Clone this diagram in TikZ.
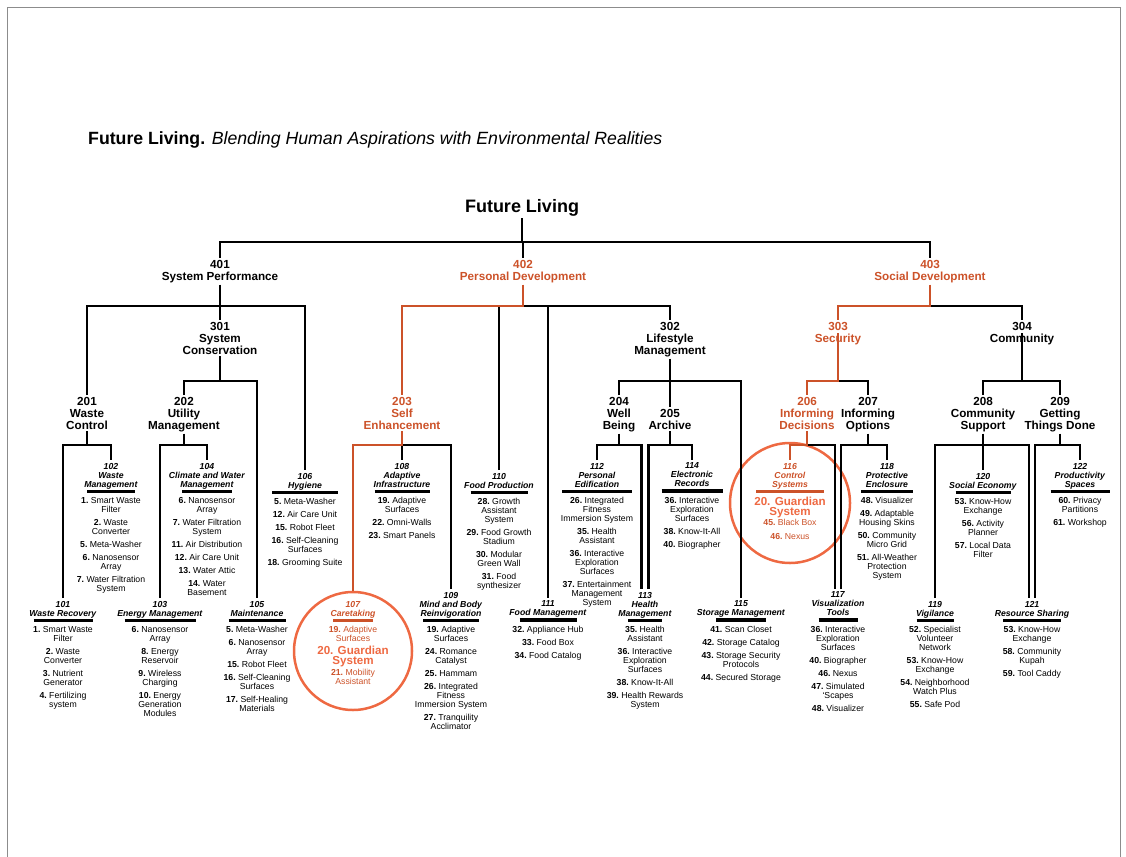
\documentclass[tikz,border=0pt]{standalone}
\usepackage{fontspec}
\setmainfont{Liberation Sans}
\definecolor{rust}{HTML}{CC5229}
\definecolor{flame}{HTML}{EE6942}
\definecolor{edge}{HTML}{8C8C8C}
\newcommand{\itm}[1]{\textbf{#1.}\ }
\newcommand{\cathd}[1]{\textbf{\textit{#1}}}
\newcommand{\catbar}[1]{\rule{#1pt}{3.5pt}}
\newcommand{\guard}[1]{{\color{flame}\fontsize{11.6}{9}\selectfont\bfseries #1}}
\begin{document}
\begin{tikzpicture}[x=1pt,y=-1pt]
\tikzstyle{lvl}=[anchor=north,align=center,inner sep=0pt,outer sep=2pt,font=\fontsize{11.7}{12}\selectfont\bfseries]
\tikzstyle{cat}=[anchor=north,align=center,inner sep=0pt,outer sep=3pt,font=\fontsize{8.7}{9}\selectfont]
\tikzstyle{tree}=[line width=2.6pt]
\tikzstyle{hotline}=[line width=2.6pt,draw=rust]
\tikzstyle{ring}=[circle,draw=flame,line width=2.5pt,inner sep=0pt]
\useasboundingbox (0,0) rectangle (1126,856);
\draw[edge,line width=0.8pt] (7,900) -- (7,7) -- (1120,7) -- (1120,900);

\node[anchor=base west,inner sep=0pt] (title) at (88,144) {\fontsize{17.7}{20}\selectfont\textbf{Future Living.} \textit{Blending Human Aspirations with Environmental Realities}};
\node[inner sep=0pt,outer sep=2pt,font=\fontsize{18}{20}\selectfont\bfseries] (root) at (522,208) {Future Living};

% levels
\node[lvl] (n401) at (220,258) {401\\System Performance};
\node[lvl,text=rust] (n402) at (523,258) {402\\Personal Development};
\node[lvl,text=rust] (n403) at (930,258) {403\\Social Development};
\node[lvl] (n301) at (220,320) {301\\System\\Conservation};
\node[lvl] (n302) at (670,320) {302\\Lifestyle\\Management};
\node[lvl,text=rust] (n303) at (838,320) {303\\Security};
\node[lvl] (n304) at (1022,320) {304\\Community};
\node[lvl] (n201) at (87,395) {201\\Waste\\Control};
\node[lvl] (n202) at (184,395) {202\\Utility\\Management};
\node[lvl,text=rust] (n203) at (402,395) {203\\Self\\Enhancement};
\node[lvl] (n204) at (619,395) {204\\Well\\Being};
\node[lvl] (n205) at (670,407) {205\\Archive};
\node[lvl,text=rust] (n206) at (807,395) {206\\Informing\\Decisions};
\node[lvl] (n207) at (868,395) {207\\Informing\\Options};
\node[lvl] (n208) at (983,395) {208\\Community\\Support};
\node[lvl] (n209) at (1060,395) {209\\Getting\\Things Done};

% categories, upper row
\node[cat] (c102) at (111,460) {\cathd{102}\\\cathd{Waste}\\\cathd{Management}\\[-3pt]\catbar{48}\\[1.3pt]\itm{1}Smart Waste\\Filter\\[4pt]\itm{2}Waste\\Converter\\[4pt]\itm{5}Meta-Washer\\[4pt]\itm{6}Nanosensor\\Array\\[4pt]\itm{7}Water Filtration\\System};
\node[cat] (c104) at (207,460) {\cathd{104}\\\cathd{Climate and Water}\\\cathd{Management}\\[-3pt]\catbar{50}\\[1.3pt]\itm{6}Nanosensor\\Array\\[4pt]\itm{7}Water Filtration\\System\\[4pt]\itm{11}Air Distribution\\[4pt]\itm{12}Air Care Unit\\[4pt]\itm{13}Water Attic\\[4pt]\itm{14}Water\\Basement};
\node[cat] (c106) at (305,470) {\cathd{106}\\\cathd{Hygiene}\\[-3pt]\catbar{66}\\[1.3pt]\itm{5}Meta-Washer\\[4pt]\itm{12}Air Care Unit\\[4pt]\itm{15}Robot Fleet\\[4pt]\itm{16}Self-Cleaning\\Surfaces\\[4pt]\itm{18}Grooming Suite};
\node[cat] (c108) at (402,460) {\cathd{108}\\\cathd{Adaptive}\\\cathd{Infrastructure}\\[-3pt]\catbar{55}\\[1.3pt]\itm{19}Adaptive\\Surfaces\\[4pt]\itm{22}Omni-Walls\\[4pt]\itm{23}Smart Panels};
\node[cat] (c110) at (499,470) {\cathd{110}\\\cathd{Food Production}\\[-3pt]\catbar{57}\\[1.3pt]\itm{28}Growth\\Assistant\\System\\[4pt]\itm{29}Food Growth\\Stadium\\[4pt]\itm{30}Modular\\Green Wall\\[4pt]\itm{31}Food\\synthesizer};
\node[cat] (c112) at (597,460) {\cathd{112}\\\cathd{Personal}\\\cathd{Edification}\\[-3pt]\catbar{70}\\[1.3pt]\itm{26}Integrated\\Fitness\\Immersion System\\[4pt]\itm{35}Health\\Assistant\\[4pt]\itm{36}Interactive\\Exploration\\Surfaces\\[4pt]\itm{37}Entertainment\\Management\\System};
\node[cat] (c114) at (692,460) {\cathd{114}\\\cathd{Electronic}\\\cathd{Records}\\[-3pt]\catbar{61}\\[1.3pt]\itm{36}Interactive\\Exploration\\Surfaces\\[4pt]\itm{38}Know-It-All\\[4pt]\itm{40}Biographer};
\node[cat,text=rust] (c116) at (790,460) {\cathd{116}\\\cathd{Control}\\\cathd{Systems}\\[-3pt]\catbar{68}\\[3.8pt]\guard{20. Guardian}\\[1pt]\guard{System}\\[1pt]\itm{45}Black Box\\[4.3pt]\itm{46}Nexus};
\node[cat] (c118) at (887,460) {\cathd{118}\\\cathd{Protective}\\\cathd{Enclosure}\\[-3pt]\catbar{52}\\[1.3pt]\itm{48}Visualizer\\[4pt]\itm{49}Adaptable\\Housing Skins\\[4pt]\itm{50}Community\\Micro Grid\\[4pt]\itm{51}All-Weather\\Protection\\System};
\node[cat] (c120) at (983,470) {\cathd{120}\\\cathd{Social Economy}\\[-3pt]\catbar{55}\\[1.3pt]\itm{53}Know-How\\Exchange\\[4pt]\itm{56}Activity\\Planner\\[4pt]\itm{57}Local Data\\Filter};
\node[cat] (c122) at (1080,460) {\cathd{122}\\\cathd{Productivity}\\\cathd{Spaces}\\[-3pt]\catbar{59}\\[1.3pt]\itm{60}Privacy\\Partitions\\[4pt]\itm{61}Workshop};

% categories, lower row
\node[cat] (c101) at (63,598) {\cathd{101}\\\cathd{Waste Recovery}\\[-3pt]\catbar{59}\\[1.3pt]\itm{1}Smart Waste\\Filter\\[4pt]\itm{2}Waste\\Converter\\[4pt]\itm{3}Nutrient\\Generator\\[4pt]\itm{4}Fertilizing\\system};
\node[cat] (c103) at (160,598) {\cathd{103}\\\cathd{Energy Management}\\[-3pt]\catbar{71}\\[1.3pt]\itm{6}Nanosensor\\Array\\[4pt]\itm{8}Energy\\Reservoir\\[4pt]\itm{9}Wireless\\Charging\\[4pt]\itm{10}Energy\\Generation\\Modules};
\node[cat] (c105) at (257,598) {\cathd{105}\\\cathd{Maintenance}\\[-3pt]\catbar{57}\\[1.3pt]\itm{5}Meta-Washer\\[4pt]\itm{6}Nanosensor\\Array\\[4pt]\itm{15}Robot Fleet\\[4pt]\itm{16}Self-Cleaning\\Surfaces\\[4pt]\itm{17}Self-Healing\\Materials};
\node[cat,text=rust] (c107) at (353,598) {\cathd{107}\\\cathd{Caretaking}\\[-3pt]\catbar{40}\\[1.3pt]\itm{19}Adaptive\\Surfaces\\[3.7pt]\guard{20. Guardian}\\[1pt]\guard{System}\\[2.6pt]\itm{21}Mobility\\Assistant};
\node[cat] (c109) at (451,589) {\cathd{109}\\\cathd{Mind and Body}\\\cathd{Reinvigoration}\\[-3pt]\catbar{56}\\[1.3pt]\itm{19}Adaptive\\Surfaces\\[4pt]\itm{24}Romance\\Catalyst\\[4pt]\itm{25}Hammam\\[4pt]\itm{26}Integrated\\Fitness\\Immersion System\\[4pt]\itm{27}Tranquility\\Acclimator};
\node[cat] (c111) at (548,598) {\cathd{111}\\\cathd{Food Management}\\[-3pt]\catbar{57}\\[1.3pt]\itm{32}Appliance Hub\\[4pt]\itm{33}Food Box\\[4pt]\itm{34}Food Catalog};
\node[cat] (c113) at (645,589) {\cathd{113}\\\cathd{Health}\\\cathd{Management}\\[-3pt]\catbar{34}\\[1.3pt]\itm{35}Health\\Assistant\\[4pt]\itm{36}Interactive\\Exploration\\Surfaces\\[4pt]\itm{38}Know-It-All\\[4pt]\itm{39}Health Rewards\\System};
\node[cat] (c115) at (741,598) {\cathd{115}\\\cathd{Storage Management}\\[-3pt]\catbar{50}\\[1.3pt]\itm{41}Scan Closet\\[4pt]\itm{42}Storage Catalog\\[4pt]\itm{43}Storage Security\\Protocols\\[4pt]\itm{44}Secured Storage};
\node[cat] (c117) at (838,589) {\cathd{117}\\\cathd{Visualization}\\\cathd{Tools}\\[-3pt]\catbar{39}\\[1.3pt]\itm{36}Interactive\\Exploration\\Surfaces\\[4pt]\itm{40}Biographer\\[4pt]\itm{46}Nexus\\[4pt]\itm{47}Simulated\\`Scapes\\[4pt]\itm{48}Visualizer};
\node[cat] (c119) at (935,598) {\cathd{119}\\\cathd{Vigilance}\\[-3pt]\catbar{37}\\[1.3pt]\itm{52}Specialist\\Volunteer\\Network\\[4pt]\itm{53}Know-How\\Exchange\\[4pt]\itm{54}Neighborhood\\Watch Plus\\[4pt]\itm{55}Safe Pod};
\node[cat] (c121) at (1032,598) {\cathd{121}\\\cathd{Resource Sharing}\\[-3pt]\catbar{58}\\[1.3pt]\itm{53}Know-How\\Exchange\\[4pt]\itm{58}Community\\Kupah\\[4pt]\itm{59}Tool Caddy};

% rings
\node[ring,minimum size=118pt] (o107) at (353,651) {};
\node[ring,minimum size=120pt] (o116) at (790,503) {};

% buses
\coordinate (b0) at (0,242);
\coordinate (b1) at (0,306);
\coordinate (b2) at (0,381);
\coordinate (b3) at (0,445);

\draw[tree] (root.south) -- (root |- b0);
\draw[tree] (n401.north) |- (n403 |- b0) -- (n403.north);
\draw[tree] (n402 |- b0) -- (n402.north);

% 401
\draw[tree] (n401.south) -- (n401 |- b1);
\draw[tree] (n201.north) |- (c106.north |- b1) -- (c106.north);
\draw[tree] (n401 |- b1) -- (n301.north);
\draw[tree] (n301.south) -- (n301 |- b2);
\draw[tree] (n202.north) |- (c105.north |- b2) -- (c105.north);
\draw[tree] (n201.south) -- (n201 |- b3);
\draw[tree] (c101.north) |- (c102.north |- b3) -- (c102.north);
\draw[tree] (n202.south) -- (n202 |- b3);
\draw[tree] (c103.north) |- (c104.north |- b3) -- (c104.north);

% 402
\draw[tree] (n402 |- b1) -- (n302 |- b1) -- (n302.north);
\draw[tree] (c110.north |- b1) -- (c110.north);
\draw[tree] (c111.north |- b1) -- (c111.north);
\draw[tree] (n302.south) -- (n302 |- b2);
\draw[tree] (n204.north) |- (c115.north |- b2) -- (c115.north);
\draw[tree] (n302 |- b2) -- (n205.north);
\draw[tree] (n203 |- b3) -- (c109.north |- b3) -- (c109.north);
\draw[tree] (n203 |- b3) -- (c108.north);
\draw[tree] (n204.south) -- (n204 |- b3);
\draw[tree] (c112.north) |- ([xshift=-3.5pt]c113.north |- b3) -- ([xshift=-3.5pt]c113.north);
\draw[tree] (n205.south) -- (n205 |- b3);
\draw[tree] ([xshift=3.5pt]c113.north) |- (c114.north |- b3) -- (c114.north);

% 403
\draw[tree] (n403 |- b1) -- (n304 |- b1) -- (n304.north);
\draw[tree] (n303 |- b2) -- (n207 |- b2) -- (n207.north);
\draw[tree] (n206 |- b3) -- ([xshift=-3pt]c117.north |- b3) -- ([xshift=-3pt]c117.north);
\draw[tree] (n207.south) -- (n207 |- b3);
\draw[tree] ([xshift=3pt]c117.north) |- (c118.north |- b3) -- (c118.north);
\draw[tree] (n304.center) -- (n304 |- b2);
\draw[tree] (n208.north) |- (n209 |- b2) -- (n209.north);
\draw[tree] (n208.south) -- (n208 |- b3);
\draw[tree] (c119.north) |- ([xshift=-3pt]c121.north |- b3) -- ([xshift=-3pt]c121.north);
\draw[tree] (n208 |- b3) -- (c120.north);
\draw[tree] (n209.south) -- (n209 |- b3);
\draw[tree] ([xshift=3pt]c121.north) |- (c122.north |- b3) -- (c122.north);

% highlighted path
\draw[hotline] (n402.south) -- (n402 |- b1) -| (n203.north);
\draw[hotline] (n203.south) -- (n203 |- b3) -| (o107.north);
\draw[hotline] (n403.south) -- (n403 |- b1) -| (n303.north);
\draw[hotline] (n303.center) -- (n303 |- b2) -| (n206.north);
\draw[hotline] (n206.south) -- (n206 |- b3) -| (c116.north);
\end{tikzpicture}
\end{document}
